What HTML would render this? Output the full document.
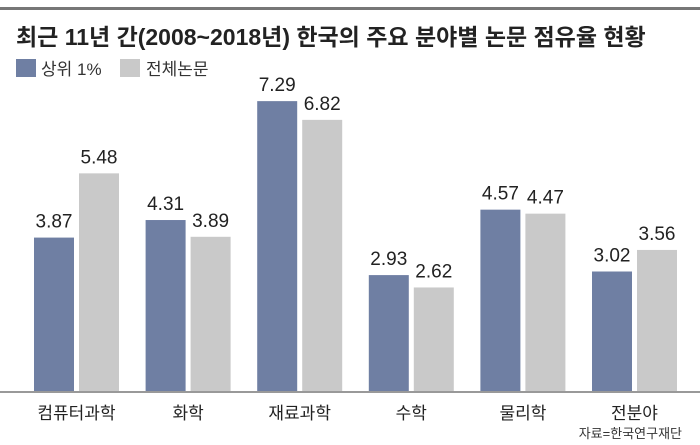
<!DOCTYPE html>
<html><head><meta charset="utf-8"><style>
body{margin:0;background:#fff;}
svg{display:block;font-family:"Liberation Sans","Noto Sans CJK KR",sans-serif;}
</style></head><body>
<svg id="chart" width="700" height="445" viewBox="0 0 700 445">
<rect x="0" y="7" width="700" height="3" fill="#777"/>
<text x="16" y="45" font-size="23" font-weight="bold" fill="#222">최근 11년 간(2008~2018년) 한국의 주요 분야별 논문 점유율 현황</text>
<g>
<rect x="16" y="59" width="20" height="18" fill="#6f7fa3"/>
<text x="41" y="75" font-size="17" fill="#333">상위 1%</text>
<rect x="120" y="59" width="20" height="18" fill="#c9c9c9"/>
<text x="146" y="75" font-size="17" fill="#333">전체논문</text>
</g>
<g id="bars"></g>
<rect x="0" y="391" width="700" height="2" fill="#999"/>
<text x="682" y="438" font-size="13" fill="#333" text-anchor="end">자료=한국연구재단</text>
</svg>
<script>
const categories = ["컴퓨터과학","화학","재료과학","수학","물리학","전분야"];
const top1Values = [3.87,4.31,7.29,2.93,4.57,3.02];
const allValues = [5.48,3.89,6.82,2.62,4.47,3.56];
const ns="http://www.w3.org/2000/svg";
const g=document.getElementById('bars');
const baseY=392, pxPerUnit=39.9;
const y=v=>baseY-v*pxPerUnit;
const groupX=i=>34+i*111.6;
function mk(t,a){const e=document.createElementNS(ns,t);for(const k in a)e.setAttribute(k,a[k]);g.appendChild(e);return e;}
categories.forEach((c,i)=>{
  const x0=groupX(i);
  [[top1Values[i],x0,"#6f7fa3","top1"],[allValues[i],x0+45,"#c9c9c9","all"]].forEach(([v,x,col,s])=>{
    const r=mk('rect',{x:x,y:y(v),width:40,height:baseY-y(v),fill:col});
    
    
    const t=mk('text',{x:x+20,y:y(v)-10,'font-size':19,'text-anchor':'middle',fill:'#222'});
    t.textContent=v.toFixed(2);
    
    
  });
  const l=mk('text',{x:x0+42.5,y:419,'font-size':17,'text-anchor':'middle',fill:'#222'});
  l.textContent=c;
  
  
});
</script>
</body></html>
